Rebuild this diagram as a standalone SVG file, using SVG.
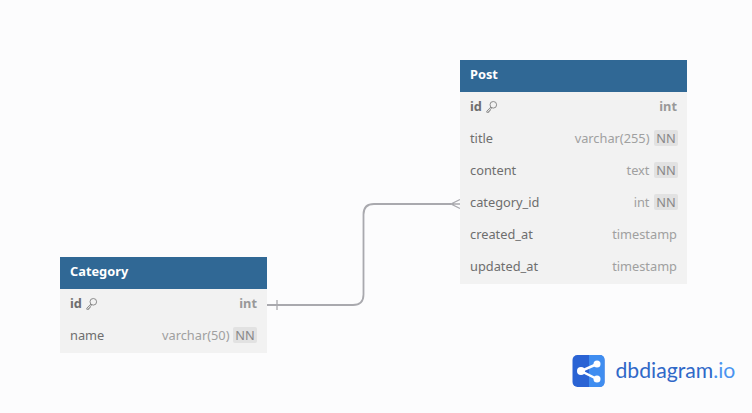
<svg xmlns="http://www.w3.org/2000/svg" width="752" height="413" viewBox="0 0 752 413">
<style>
text{font-family:"Noto Sans","Open Sans",sans-serif;font-size:12.8px}
.b{fill:#f2f2f2}.h{fill:#306895}
.t{fill:#fff;font-weight:700}
.n{fill:#6e6e6e}.nb{fill:#6e6e6e;font-weight:700}
.y{fill:#a0a0a0;text-anchor:end}.yb{fill:#999;font-weight:700;text-anchor:end}
.nnb{fill:#e2e2e2}.nn{fill:#888;text-anchor:middle}
.key{fill:none;stroke:#808080;stroke-width:.9}
.c{fill:none;stroke:#a9a9ae;stroke-width:1.800}
.m{fill:none;stroke:#a9a9ae;stroke-width:1.300}
</style>
<defs>
<g id="k"><circle cx="7.300" cy="3.800" r="3.300" class="key"/><path class="key" d="M4.900 6L0.800 10.200V11.300H2.800V10H4V8.600L5.800 7"/></g>
</defs>
<rect width="752" height="413" fill="#fcfcfd"/>
<g id="connectors">
<path class="c" d="M267 305H353Q363.500 305 363.500 294.500V214.500Q363.500 204 374 204H451"/>
<path class="m" d="M277 300V310"/>
<path class="m" d="M460 199.500L451 204L460 208.500M451 204H460"/>
</g>
<g id="post">
<rect class="b" x="460" y="92" width="227" height="192"/>
<rect class="h" x="460" y="60" width="227" height="32"/>
<text class="t" x="470" y="79">Post</text>
<text class="nb" x="470" y="111">id</text><use href="#k" x="486" y="101"/><text class="yb" x="677" y="111">int</text>
<text class="n" x="470" y="143">title</text><text class="y" x="649.500" y="143">varchar(255)</text><rect class="nnb" x="654" y="130" width="24" height="16" rx="2"/><text class="nn" x="666" y="143">NN</text>
<text class="n" x="470" y="175">content</text><text class="y" x="649.500" y="175">text</text><rect class="nnb" x="654" y="162" width="24" height="16" rx="2"/><text class="nn" x="666" y="175">NN</text>
<text class="n" x="470" y="207">category_id</text><text class="y" x="649.500" y="207">int</text><rect class="nnb" x="654" y="194" width="24" height="16" rx="2"/><text class="nn" x="666" y="207">NN</text>
<text class="n" x="470" y="239">created_at</text><text class="y" x="677" y="239">timestamp</text>
<text class="n" x="470" y="271">updated_at</text><text class="y" x="677" y="271">timestamp</text>
</g>
<g id="category">
<rect class="b" x="60" y="289" width="207" height="64"/>
<rect class="h" x="60" y="257" width="207" height="32"/>
<text class="t" x="70" y="276">Category</text>
<text class="nb" x="70" y="308">id</text><use href="#k" x="86" y="298"/><text class="yb" x="257" y="308">int</text>
<text class="n" x="70" y="340">name</text><text class="y" x="229.500" y="340">varchar(50)</text><rect class="nnb" x="233" y="327" width="24" height="16" rx="2"/><text class="nn" x="245" y="340">NN</text>
</g>
<g id="logo">
<rect x="572.500" y="355" width="32" height="32" rx="5" fill="#2a63d4"/>
<path d="M589 355H599.500Q604.500 355 604.500 360V382Q604.500 387 599.500 387H589Z" fill="#3f8df0"/>
<path d="M597 364L581 371L597 379" fill="none" stroke="#fff" stroke-width="2.500"/>
<circle cx="581" cy="371" r="4" fill="#fff"/><circle cx="597" cy="364" r="3.500" fill="#fff"/><circle cx="597" cy="379" r="3.500" fill="#fff"/>
<text x="615.500" y="378" style="font-size:21.200px;font-family:Lato,sans-serif"><tspan fill="#2f68c8">dbdiagram</tspan><tspan fill="#4a94f0">.io</tspan></text>
</g>
</svg>
